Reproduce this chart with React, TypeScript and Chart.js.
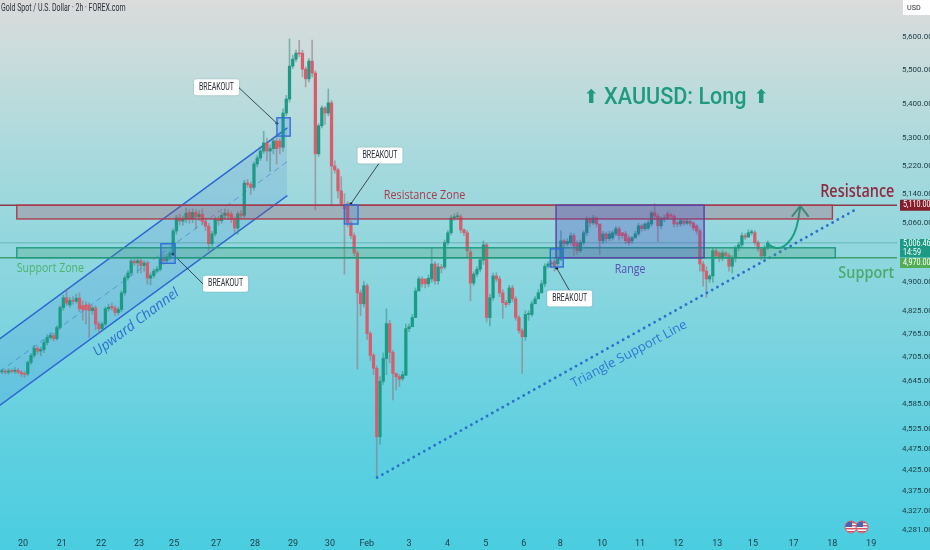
import React, { useEffect, useRef } from "react";
import { Chart, registerables } from "chart.js";

Chart.register(...registerables);

const opens = [
  4667,4669,4666,4669,4668,4671,4666,4662,4662,4691,4709,4727,4720,4724,4742,4755,4760,4752,4781,4833,
  4859,4840,4852,4850,4858,4838,4840,4840,4825,4832,4790,4778,4790,4830,4836,4832,4820,4828,4872,4912,
  4925,4957,4952,4958,4945,4952,4911,4918,4930,4935,4965,4958,4968,4979,5039,5075,5066,5072,5090,5072,
  5090,5078,5085,5065,5052,5004,5031,5072,5067,5082,5088,5085,5070,5047,5086,5082,5172,5168,5160,5226,
  5243,5263,5286,5263,5270,5292,5292,5274,5373,5414,5512,5533,5551,5551,5503,5474,5527,5491,5255,5336,
  5388,5373,5403,5220,5209,5150,5111,5114,5061,5026,4979,4872,4843,4891,4765,4709,4676,4505,4643,4701,
  4791,4717,4663,4655,4650,4658,4778,4783,4807,4877,4909,4909,4896,4909,4949,4904,4941,4941,5007,5034,
  5075,5078,5078,5042,5034,4982,4898,4922,4935,4960,5001,4807,4859,4917,4909,4872,4846,4846,4885,4856,
  4807,4773,4757,4815,4815,4843,4856,4872,4896,4943,4949,4957,4950,4962,5012,5004,5007,5026,5006,4985,
  5007,5034,5072,5061,5075,5058,5012,5031,5018,5020,5031,5045,5034,5031,5020,5012,5020,5031,5053,5045,
  5047,5058,5089,5080,5053,5072,5086,5083,5080,5061,5058,5067,5060,5066,5061,5053,5039,4949,4930,4909,
  4917,4985,4979,4965,4979,4972,4943,4965,4993,5001,5026,5022,5034,5034,5007,4990,4971,4993,
];
const closes = [
  4669,4666,4669,4668,4671,4666,4662,4660,4691,4709,4727,4720,4724,4742,4755,4760,4752,4781,4833,4859,
  4845,4852,4850,4858,4830,4828,4828,4825,4832,4790,4778,4790,4830,4834,4832,4820,4828,4872,4912,4925,
  4957,4952,4958,4945,4952,4911,4918,4930,4935,4965,4958,4968,4979,5039,5075,5066,5072,5088,5072,5090,
  5078,5085,5065,5052,5004,5031,5072,5067,5082,5088,5080,5070,5047,5086,5082,5172,5168,5160,5226,5243,
  5263,5286,5263,5270,5292,5270,5274,5373,5414,5512,5533,5551,5549,5503,5474,5527,5491,5255,5336,5388,
  5373,5403,5220,5209,5150,5114,5100,5061,5026,4979,4872,4843,4891,4765,4709,4676,4505,4643,4701,4791,
  4717,4663,4655,4648,4660,4778,4783,4807,4877,4909,4896,4896,4911,4949,4904,4941,4938,5007,5034,5075,
  5078,5080,5042,5034,4985,4898,4922,4935,4960,5001,4807,4859,4917,4909,4872,4846,4841,4885,4856,4807,
  4773,4757,4815,4817,4843,4856,4872,4896,4943,4949,4951,4943,4962,5012,5004,5010,5026,4998,4985,5007,
  5034,5072,5061,5075,5058,5012,5031,5018,5031,5034,5045,5026,5026,5012,5007,5020,5031,5053,5045,5058,
  5061,5089,5080,5053,5072,5075,5075,5080,5058,5058,5067,5060,5066,5060,5047,5039,4949,4930,4909,4917,
  4985,4971,4965,4979,4972,4943,4965,4993,5001,5026,5022,5034,5037,5007,4990,4971,4993,5006,
];
const highs = [
  4674,4673,4675,4674,4678,4676,4670,4668,4695,4714,4735,4733,4730,4748,4762,4768,4766,4786,4838,4866,
  4882,4860,4862,4868,4872,4850,4848,4846,4838,4838,4796,4795,4835,4842,4845,4838,4834,4878,4918,4932,
  4962,4968,4968,4964,4958,4958,4925,4936,4942,4972,4975,4976,4985,5045,5082,5085,5080,5102,5098,5100,
  5098,5095,5100,5075,5060,5038,5078,5080,5090,5100,5098,5092,5078,5092,5095,5180,5182,5175,5232,5250,
  5275,5320,5300,5280,5300,5310,5300,5385,5425,5594,5545,5560,5590,5560,5510,5535,5591,5498,5342,5395,
  5392,5444,5410,5235,5214,5190,5142,5120,5067,5033,4985,4880,4902,4896,4770,4714,4682,4655,4715,4830,
  4800,4722,4664,4660,4668,4790,4790,4815,4885,4915,4915,4905,4920,4993,4955,4950,4948,5014,5040,5082,
  5086,5090,5084,5045,5040,4990,4928,4942,4968,5012,5006,4868,4925,4926,4916,4880,4852,4892,4892,4862,
  4812,4778,4825,4825,4850,4862,4880,4905,4950,4955,4958,4964,4968,5040,5016,5018,5034,5032,5012,5014,
  5040,5078,5075,5082,5078,5020,5038,5036,5038,5040,5052,5050,5034,5038,5026,5024,5038,5060,5058,5062,
  5068,5094,5114,5086,5078,5082,5092,5088,5084,5066,5072,5070,5072,5068,5064,5056,5044,4956,4942,4920,
  4992,4990,4982,4986,4982,4978,4972,4998,5008,5034,5032,5042,5042,5040,5012,4994,5000,5012,
];
const lows = [
  4662,4662,4661,4664,4663,4662,4655,4653,4657,4686,4703,4712,4708,4716,4736,4750,4746,4748,4776,4826,
  4838,4834,4842,4845,4822,4800,4790,4755,4815,4775,4765,4772,4784,4824,4826,4812,4814,4822,4866,4906,
  4918,4945,4925,4925,4930,4895,4893,4912,4925,4930,4948,4950,4960,4972,5030,5055,5055,5062,5060,5062,
  5045,5068,5055,5040,4985,4998,5025,5055,5060,5072,5070,5062,5035,5030,5072,5075,5160,5140,5152,5218,
  5236,5256,5235,5205,5255,5226,5255,5262,5365,5405,5505,5525,5540,5480,5450,5465,5480,5097,5248,5330,
  5340,5365,5108,5200,5130,5108,4922,5050,5018,4970,4674,4812,4835,4750,4696,4660,4408,4486,4635,4660,
  4690,4596,4621,4630,4645,4748,4770,4795,4868,4900,4888,4885,4888,4900,4895,4895,4925,4935,5000,5028,
  5068,5070,5034,5026,4965,4851,4892,4915,4928,4948,4795,4785,4852,4902,4862,4805,4834,4840,4848,4800,
  4766,4663,4748,4800,4810,4850,4866,4888,4888,4938,4940,4930,4945,4958,4990,4998,5000,4972,4975,4980,
  5000,5026,5050,5056,5050,4975,5004,5008,5012,5014,5026,5014,5018,5004,5000,5005,5024,5026,5038,5040,
  5042,5052,5070,5010,5045,5064,5070,5075,5050,5050,5052,5054,5056,5052,5040,5030,4930,4890,4860,4900,
  4900,4964,4955,4958,4965,4930,4925,4955,4985,4995,5016,5026,5028,5000,4984,4960,4965,4988,
];

const dayLabels = ["20","21","22","23","25","27","28","29","30","Feb","3","4","5","6","8","10","11","12","13","15","17","18","19"];
const dayPositions = [6.5,18.5,30.7,42.4,53.3,66.3,78.3,90.1,101.5,112.9,126,137.9,149.7,161.5,172.8,185.7,197.5,209.3,221.4,232.4,245,257,269];
const priceTicks = [5600,5500,5400,5300,5220,5140,5060,4900,4825,4765,4705,4645,4585,4525,4475,4425,4375,4327,4281];

const channelTop = [{ x: -0.6, y: 4752 }, { x: 88.2, y: 5329 }];
const channelMid = [{ x: -0.6, y: 4668 }, { x: 88.2, y: 5232 }];
const channelBottom = [{ x: -0.6, y: 4583 }, { x: 88.2, y: 5136 }];
const triangleLine = [{ x: 116.1, y: 4406 }, { x: 265, y: 5102 }];
const forecastCurve = [{ x: 236.8, y: 5004 }, { x: 239.3, y: 4993 }, { x: 241.8, y: 4996 }, { x: 244.3, y: 5018 }, { x: 245.9, y: 5050 }, { x: 247.1, y: 5108 }];
const forecastHead = [{ x: 244.6, y: 5080 }, { x: 247.1, y: 5108 }, { x: 249.5, y: 5080 }];
const leaders = [
  [{ x: 73.4, y: 5447 }, { x: 85.1, y: 5343 }],
  [{ x: 117, y: 5232 }, { x: 108, y: 5114 }],
  [{ x: 62.2, y: 4896 }, { x: 52.9, y: 4976 }],
  [{ x: 175.5, y: 4880 }, { x: 171.7, y: 4938 }],
];
const breakoutBoxes = [
  [85.1, 89.2, 5359, 5306],
  [49.2, 53.6, 5004, 4951],
  [106, 110.2, 5111, 5058],
  [169.7, 173.7, 4990, 4941],
];
const breakoutLabels = [[66.4, 5449], [117, 5250], [69.2, 4896], [175.7, 4857]];
const resistanceZone = [4.6, 257, 5110, 5072];
const supportZone = [4.6, 257.9, 4993, 4966];
const rangeBox = [171.5, 217.3, 5110, 4966];
const resistanceLevel = 5110;
const supportLevel = 4966;
const lastPrice = 5006.46;

const titleText = "Gold Spot / U.S. Dollar · 2h · FOREX.com";
const GREEN = "#1b9b86";
const RED = "#d95c6a";
const NARROW = 'Roboto, sans-serif';
const SANS = '"Open Sans", sans-serif';

const candleData = (a: number[], b: number[]) => a.map((v, i) => ({ x: i, y: [v, b[i]] }));
const isUp = opens.map((o, i) => closes[i] >= o);

function squeezed(ctx: any, s: string, x: number, y: number, sx: number, rot = 0, align = "center") {
  ctx.save();
  ctx.translate(x, y);
  ctx.rotate((rot * Math.PI) / 180);
  ctx.scale(sx, 1);
  ctx.textAlign = align;
  ctx.textBaseline = "middle";
  ctx.fillText(s, 0, 0);
  ctx.restore();
}

const overlayPlugin = {
  id: "overlay",
  beforeDraw(chart: any) {
    const { ctx, width, height } = chart;
    const g = ctx.createLinearGradient(0, 0, 0, height);
    g.addColorStop(0, "#dbdbdb");
    g.addColorStop(0.12, "#c6dcdc");
    g.addColorStop(0.3, "#a5d9dd");
    g.addColorStop(0.55, "#84d5df");
    g.addColorStop(0.8, "#5fd0e0");
    g.addColorStop(1, "#4acde0");
    ctx.save();
    ctx.fillStyle = g;
    ctx.fillRect(0, 0, width, height);
    ctx.restore();
  },
  afterDatasetsDraw(chart: any) {
    const { ctx, scales } = chart;
    const X = (v: number) => scales.x.getPixelForValue(v);
    const Y = (v: number) => scales.y.getPixelForValue(v);
    const right = chart.chartArea.right;
    const hLine = (v: number, from: number, to: number, color: string, w: number) => {
      ctx.strokeStyle = color;
      ctx.lineWidth = w;
      ctx.beginPath();
      ctx.moveTo(from, Y(v));
      ctx.lineTo(to, Y(v));
      ctx.stroke();
    };
    const box = (b: number[], fill: string, stroke: string, w: number) => {
      const x = X(b[0]), y = Y(b[2]), bw = X(b[1]) - x, bh = Y(b[3]) - y;
      ctx.fillStyle = fill;
      ctx.fillRect(x, y, bw, bh);
      ctx.strokeStyle = stroke;
      ctx.lineWidth = w;
      ctx.strokeRect(x, y, bw, bh);
    };
    ctx.save();
    hLine(lastPrice, 0, right, "rgba(40,130,120,0.4)", 1);
    hLine(resistanceLevel, 0, right, "#8c3a4a", 1.3);
    hLine(supportLevel, 0, right, "#3fa06a", 1.3);
    box(resistanceZone, "rgba(165,75,90,0.27)", "#ac3c4f", 1.4);
    box(supportZone, "rgba(70,155,110,0.26)", "#1f9a80", 1.4);
    box(rangeBox, "rgba(75,65,185,0.28)", "#5b46a8", 1.5);
    breakoutBoxes.forEach((b) => box(b, "rgba(50,120,225,0.2)", "#2f6fd6", 1.4));

    const text = (s: string, i: number, p: number, font: string, color: string, sx = 1, rot = 0) => {
      ctx.font = font;
      ctx.fillStyle = color;
      squeezed(ctx, s, X(i), Y(p), sx, rot);
    };

    breakoutLabels.forEach(([i, p]) => {
      const cx = X(i), cy = Y(p);
      ctx.save();
      ctx.shadowColor = "rgba(0,0,0,0.2)";
      ctx.shadowBlur = 2;
      ctx.fillStyle = "#ffffff";
      ctx.beginPath();
      ctx.roundRect(cx - 22.5, cy - 8, 45, 16, 2);
      ctx.fill();
      ctx.restore();
      text("BREAKOUT", i, p, `10px ${NARROW}`, "#2a2e39", 0.7);
    });

    text("Resistance Zone", 130.8, 5136, `12px ${SANS}`, "#a83c4e", 0.9);
    text("Support Zone", 15, 4936, `12px ${SANS}`, "#4db26e", 0.88);
    text("Range", 194.4, 4933, `12px ${SANS}`, "#5a4db5", 0.88);
    text("Resistance", 264.7, 5147, `600 18px ${SANS}`, "#8e2b40", 0.8);
    text("Support", 267.5, 4925, `600 17px ${SANS}`, "#4cab6c", 0.85);
    text("Upward Channel", 41.5, 4794, `italic 500 14px ${SANS}`, "#2f6fd0", 1, -37);
    text("Triangle Support Line", 194.1, 4712, `500 13px ${SANS}`, "#2f78d4", 1, -28);
    text("XAUUSD: Long", 208.4, 5417, `500 24px ${NARROW}`, "#1f9a80", 0.9);
    text("⬆", 182.4, 5417, `19px "DejaVu Sans"`, "#1f9a80");
    text("⬆", 235, 5417, `19px "DejaVu Sans"`, "#1f9a80");
    ctx.restore();
  },
  afterDraw(chart: any) {
    const { ctx, scales } = chart;
    const Y = (v: number) => scales.y.getPixelForValue(v);
    const tag = (y0: number, h: number, bg: string, lines: string[]) => {
      ctx.fillStyle = bg;
      ctx.fillRect(900, y0, 30, h);
      ctx.fillStyle = "#ffffff";
      ctx.font = `9px ${NARROW}`;
      lines.forEach((l, k) => squeezed(ctx, l, 903, y0 + (h / lines.length) * (k + 0.5), 0.8, 0, "left"));
    };
    ctx.save();
    ctx.fillStyle = "#ffffff";
    ctx.fillRect(903, 0, 27, 15);
    ctx.fillStyle = "#2a2e39";
    ctx.font = `8px ${NARROW}`;
    squeezed(ctx, "USD", 907, 8, 0.9, 0, "left");
    ctx.font = `10px ${NARROW}`;
    squeezed(ctx, titleText, 1, 8, 0.7, 0, "left");

    tag(Y(resistanceLevel) - 5.5, 11, "#861d2b", ["5,110.00"]);
    tag(239, 18.5, "#1b9b86", ["5,006.46", "14:59"]);
    tag(258, 10, "#52ad55", ["4,970.00"]);

    [851, 862].forEach((cx) => {
      const cy = 527, r = 6;
      ctx.save();
      ctx.beginPath();
      ctx.arc(cx, cy, r, 0, Math.PI * 2);
      ctx.clip();
      ctx.fillStyle = "#f4f4f4";
      ctx.fillRect(cx - r, cy - r, 2 * r, 2 * r);
      ctx.fillStyle = "#d9505f";
      for (let k = 0; k < 4; k++) ctx.fillRect(cx - r, cy - r + 1 + k * 3, 2 * r, 1.4);
      ctx.fillStyle = "#4a62b0";
      ctx.fillRect(cx - r, cy - r, r + 1, r);
      ctx.restore();
      ctx.strokeStyle = "#c9606e";
      ctx.lineWidth = 1;
      ctx.beginPath();
      ctx.arc(cx, cy, r, 0, Math.PI * 2);
      ctx.stroke();
    });
    ctx.restore();
  },
};

const noPadding = (s: any) => {
  s.paddingLeft = 0;
  s.paddingRight = 0;
  s.paddingTop = 0;
  s.paddingBottom = 0;
};

export default function App() {
  const ref = useRef<HTMLCanvasElement | null>(null);
  useEffect(() => {
    if (!ref.current) return;
    const lineBase = { type: "line", pointRadius: 0, borderCapStyle: "round", fill: false, tension: 0 };
    const chart = new Chart(ref.current, {
      type: "bar",
      data: {
        datasets: [
          { ...lineBase, label: "Channel top", data: channelTop, borderColor: "#2b66d4", borderWidth: 1.4, fill: "+1", backgroundColor: "rgba(60,125,220,0.16)", order: 6 },
          { ...lineBase, label: "Channel bottom", data: channelBottom, borderColor: "#2b66d4", borderWidth: 1.4, order: 6 },
          { ...lineBase, label: "Channel mid", data: channelMid, borderColor: "rgba(60,110,190,0.7)", borderWidth: 0.8, borderDash: [5, 5], order: 6 },
          { label: "Wicks", data: candleData(lows, highs), backgroundColor: isUp.map((u) => (u ? "rgba(60,140,130,0.55)" : "rgba(150,110,120,0.55)")), barThickness: 1, grouped: false, order: 4 },
          { label: "Bodies", data: candleData(opens, closes), backgroundColor: isUp.map((u) => (u ? GREEN : RED)), barThickness: 2.6, minBarLength: 1, grouped: false, order: 3 },
          { ...lineBase, label: "Triangle", data: triangleLine, borderColor: "#2a72cc", borderWidth: 2.8, borderDash: [0.1, 5.9], order: 0 },
          { ...lineBase, label: "Forecast", data: forecastCurve, borderColor: "#17a085", borderWidth: 2, tension: 0.45, order: 0 },
          { ...lineBase, label: "Forecast head", data: forecastHead, borderColor: "#17a085", borderWidth: 2, order: 0 },
          ...leaders.map((l, k) => ({ ...lineBase, label: `Leader ${k + 1}`, data: l, borderColor: "#2e3a44", borderWidth: 0.9, pointRadius: [0, 1.4], pointBackgroundColor: "#10181f", pointBorderWidth: 0, order: 0 })),
        ] as any,
      },
      options: {
        animation: false,
        responsive: false,
        layout: { padding: 0, autoPadding: false },
        plugins: { legend: { display: false }, tooltip: { enabled: false } },
        scales: {
          x: {
            type: "linear",
            min: -0.6,
            max: 277,
            offset: false,
            bounds: "data",
            grid: { display: false, drawTicks: false },
            border: { display: false },
            afterBuildTicks: (s: any) => { s.ticks = dayPositions.map((v) => ({ value: v })); },
            afterFit: (s: any) => { s.height = 17; noPadding(s); },
            ticks: {
              autoSkip: false,
              maxRotation: 0,
              padding: 5,
              color: "#1d3b44",
              font: { size: 9, family: NARROW },
              callback: (v: any) => dayLabels[dayPositions.indexOf(v)] ?? "",
            },
          },
          y: {
            type: "logarithmic",
            position: "right",
            min: 4275,
            max: 5714,
            bounds: "data",
            grid: { display: false, drawTicks: false },
            border: { display: false },
            afterBuildTicks: (s: any) => { s.ticks = priceTicks.map((v) => ({ value: v })); },
            afterFit: (s: any) => { s.width = 33; noPadding(s); },
            ticks: {
              autoSkip: false,
              padding: 5,
              color: "#1d3b44",
              font: { size: 8, family: NARROW },
              callback: (v: any) => Number(v).toLocaleString("en-US", { minimumFractionDigits: 2, maximumFractionDigits: 2 }),
            },
          },
        },
      } as any,
      plugins: [overlayPlugin],
    });
    return () => chart.destroy();
  }, []);
  return (
    <div style={{ position: "fixed", left: 0, top: 0, width: 930, height: 550 }}>
      <canvas ref={ref} width={930} height={550} style={{ display: "block" }} />
    </div>
  );
}
